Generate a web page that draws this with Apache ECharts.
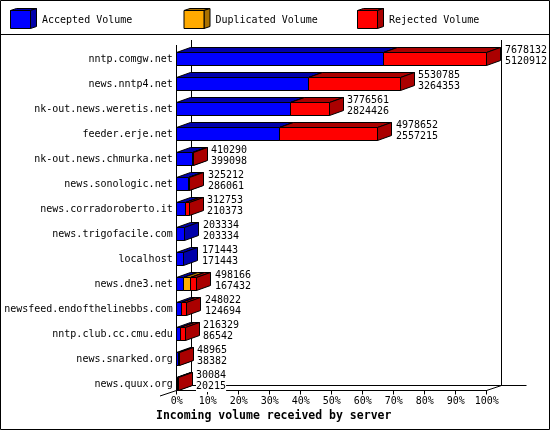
<!DOCTYPE html>
<html><head><meta charset="utf-8">
<script src="https://cdn.jsdelivr.net/npm/echarts@6/dist/echarts.min.js"></script>
<style>html,body{margin:0;padding:0;background:#fff}#c{width:550px;height:430px}</style>
</head><body><div id="c"></div>
<script>
const categories = ['nntp.comgw.net','news.nntp4.net','nk-out.news.weretis.net','feeder.erje.net','nk-out.news.chmurka.net','news.sonologic.net','news.corradoroberto.it','news.trigofacile.com','localhost','news.dne3.net','newsfeed.endofthelinebbs.com','nntp.club.cc.cmu.edu','news.snarked.org','news.quux.org'];
const totalVolume = [7678132,5530785,3776561,4978652,410290,325212,312753,203334,171443,498166,248022,216329,48965,30084];
const acceptedVolume = [5120912,3264353,2824426,2557215,399098,286061,210373,203334,171443,167432,124694,86542,38382,20215];
const duplicatedVolume = [0,0,0,0,0,0,0,0,0,165000,0,0,0,0];
const rejectedVolume = [2557220,2266432,952135,2421437,11192,39151,102380,0,0,165734,123328,129787,10583,9869];
const percentTicks = ['0%','10%','20%','30%','40%','50%','60%','70%','80%','90%','100%'];
const legendNames = ['Accepted Volume','Duplicated Volume','Rejected Volume'];
const chartTitle = 'Incoming volume received by server';

const FONT = '"DejaVu Sans Mono", "Liberation Mono", monospace';
const maxTotal = Math.max.apply(null, totalVolume);
const DX = 14, DY = -5, HALF = 6.5;
const COLORS = [['#0000ff','#0000aa'],['#ffaa00','#aa7100'],['#ff0000','#aa0000']];
function pct(v){ return v / maxTotal * 100; }
function snap(v){ return Math.round(v - 0.5) + 0.5; }

const segAcc = [], segDup = [], segRej = [], labelData = [];
categories.forEach(function(c, i){
  const a = acceptedVolume[i], d = duplicatedVolume[i], r = rejectedVolume[i];
  segAcc.push([0, pct(a), i]);
  segDup.push([pct(a), pct(a + d), i]);
  segRej.push([pct(a + d), pct(a + d + r), i]);
  labelData.push([pct(totalVolume[i]), i, totalVolume[i], acceptedVolume[i]]);
});

function boxRender(front, dark){
  return function(params, api){
    const s = api.value(0), e = api.value(1), idx = api.value(2);
    if (!(e - s > 0)) return null;
    const p0 = api.coord([s, idx]), p1 = api.coord([e, idx]);
    const x0 = snap(p0[0]), x1 = snap(Math.max(p1[0], p0[0] + 1));
    const yt = snap(p0[1] - HALF), yb = snap(p0[1] + HALF);
    const st = {stroke:'#000', lineWidth:1};
    return {type:'group', children:[
      {type:'polygon', shape:{points:[[x0,yt],[x0+DX,yt+DY],[x1+DX,yt+DY],[x1,yt]]}, style:Object.assign({fill:dark}, st)},
      {type:'polygon', shape:{points:[[x1,yt],[x1+DX,yt+DY],[x1+DX,yb+DY],[x1,yb]]}, style:Object.assign({fill:dark}, st)},
      {type:'rect', shape:{x:x0, y:yt, width:x1-x0, height:yb-yt}, style:Object.assign({fill:front}, st)}
    ]};
  };
}

function frameRender(params, api){
  const n = categories.length;
  const xL = snap(api.coord([0, 0])[0]);
  const xR = snap(api.coord([100, 0])[0]);
  const floorY = snap(api.coord([0, n - 1])[1] + HALF);
  const topFront = params.coordSys.y - 1.5;
  const topBack = topFront - 5;
  const W = 15, H = -5;
  const st = {stroke:'#000', lineWidth:1, fill:null};
  function ln(a, b, c, d){ return {type:'line', shape:{x1:a, y1:b, x2:c, y2:d}, style:st}; }
  return {type:'group', children:[
    ln(xL, topFront, xL, floorY),
    ln(xL + W, topBack, xL + W, floorY + H),
    ln(xR + W, topBack, xR + W, floorY + H),
    ln(xL + W, floorY + H, xR + 40, floorY + H),
    ln(xL - 16.5, floorY + 5.5, xL + W, floorY + H),
    ln(xR, floorY, xR + W, floorY + H)
  ]};
}

function labelRender(params, api){
  const p = api.coord([api.value(0), api.value(1)]);
  return {type:'text', x: Math.round(p[0] + 18), y: Math.round(p[1] - 14.5),
    style:{text: api.value(2) + '\n' + api.value(3), fill:'#000', font:'10px ' + FONT,
      lineHeight:11, align:'left', verticalAlign:'top', backgroundColor:'#fff'}};
}

const legendX = [10, 183.5, 357];
const legendGraphics = [];
legendNames.forEach(function(name, k){
  const x = legendX[k] + 0.5, y = 10.5, w = 20, h = 18, dx = 6, dy = -2;
  const st = {stroke:'#000', lineWidth:1};
  legendGraphics.push({type:'polygon', shape:{points:[[x,y],[x+dx,y+dy],[x+w+dx,y+dy],[x+w,y]]}, style:Object.assign({fill:COLORS[k][1]}, st)});
  legendGraphics.push({type:'polygon', shape:{points:[[x+w,y],[x+w+dx,y+dy],[x+w+dx,y+h+dy],[x+w,y+h]]}, style:Object.assign({fill:COLORS[k][1]}, st)});
  legendGraphics.push({type:'rect', shape:{x:x, y:y, width:w, height:h}, style:Object.assign({fill:COLORS[k][0]}, st)});
  legendGraphics.push({type:'text', x: legendX[k] + 32, y: 20, style:{text:name, fill:'#000', font:'10px ' + FONT, verticalAlign:'middle', align:'left'}});
});
legendGraphics.push({type:'rect', shape:{x:0.5, y:0.5, width:549, height:429}, style:{fill:null, stroke:'#000', lineWidth:1}});
legendGraphics.push({type:'line', shape:{x1:0, y1:34.5, x2:550, y2:34.5}, style:{stroke:'#000', lineWidth:1}});

const chart = echarts.init(document.getElementById('c'), null, {renderer:'canvas'});
chart.setOption({
  animation:false,
  backgroundColor:'#fff',
  title:{text:chartTitle, left:156, top:410, padding:0, textStyle:{fontFamily:FONT, fontSize:11.5, fontWeight:'bold', color:'#000', lineHeight:13}},
  grid:{left:176.7, right:63.3, top:46.5, bottom:33.5, containLabel:false},
  xAxis:{type:'value', min:0, max:100, interval:10, offset:-6,
    axisLine:{show:true, lineStyle:{color:'#000', width:1}},
    axisTick:{show:true, length:4, lineStyle:{color:'#000'}},
    splitLine:{show:false},
    axisLabel:{margin:6, color:'#000', fontFamily:FONT, fontSize:10, formatter:function(v){ return percentTicks[Math.round(v/10)]; }}},
  yAxis:{type:'category', inverse:true, data:categories,
    axisLine:{show:false}, axisTick:{show:false}, splitLine:{show:false},
    axisLabel:{margin:4, color:'#000', fontFamily:FONT, fontSize:10, interval:0}},
  graphic:legendGraphics,
  series:[
    {type:'custom', name:'frame', data:[[0,0]], renderItem:frameRender, clip:false, silent:true},
    {type:'custom', name:legendNames[0], data:segAcc, renderItem:boxRender(COLORS[0][0], COLORS[0][1]), clip:false},
    {type:'custom', name:legendNames[1], data:segDup, renderItem:boxRender(COLORS[1][0], COLORS[1][1]), clip:false},
    {type:'custom', name:legendNames[2], data:segRej, renderItem:boxRender(COLORS[2][0], COLORS[2][1]), clip:false},
    {type:'custom', name:'labels', data:labelData, renderItem:labelRender, clip:false}
  ]
});
</script></body></html>
